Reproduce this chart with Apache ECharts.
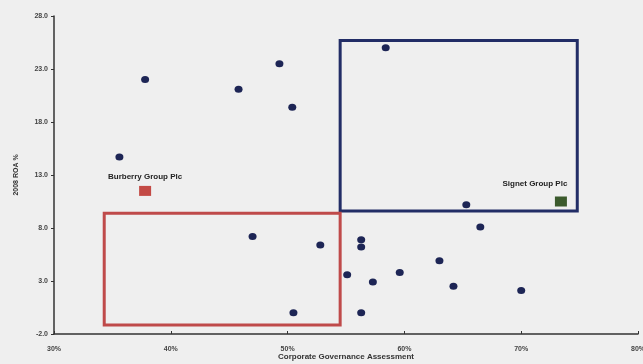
<!DOCTYPE html>
<html>
<head>
<meta charset="utf-8">
<script src="https://cdn.jsdelivr.net/npm/echarts@6/dist/echarts.min.js"></script>
<style>
html,body{margin:0;padding:0;background:#efefef;}
#chart{width:643px;height:364px;}
</style>
</head>
<body>
<div id="chart"></div>
<script>
// Corporate Governance Assessment (%) vs 2008 ROA (%)
var companiesX = [35.6, 37.8, 45.8, 49.3, 50.4, 58.4, 47.0, 52.8, 56.3, 56.3, 55.1, 57.3, 59.6, 63.0, 64.2, 70.0, 66.5, 65.3, 50.5, 56.3];
var companiesY = [14.7, 22.0, 21.1, 23.5, 19.4, 25.0, 7.2, 6.4, 6.9, 6.2, 3.6, 2.9, 3.8, 4.9, 2.5, 2.1, 8.1, 10.2, 0.0, 0.0];

var burberry = {name: 'Burberry Group Plc', x: 37.8, y: 11.5};
var signet = {name: 'Signet Group Plc', x: 73.4, y: 10.5};

// annotation boxes [xMin, yMin, xMax, yMax]
var blueBox = [54.5, 9.6, 74.8, 25.7];
var redBox = [34.3, -1.15, 54.5, 9.4];

var xTicks = [30, 40, 50, 60, 70, 80];
var yTicks = [-2, 3, 8, 13, 18, 23, 28];

var pts = companiesX.map(function (x, i) { return [x, companiesY[i]]; });

var chart = echarts.init(document.getElementById('chart'));
var font = 'Liberation Sans, Arial, sans-serif';
chart.setOption({
  backgroundColor: '#efefef',
  animation: false,
  grid: {left: 54, right: 5, top: 16, bottom: 30, containLabel: false, outerBoundsMode: 'none'},
  xAxis: {
    type: 'value', min: 30, max: 80, interval: 10,
    name: 'Corporate Governance Assessment', nameLocation: 'middle', nameGap: 19, nameMoveOverlap: false,
    nameTextStyle: {fontSize: 8, fontWeight: 'bold', color: '#333', fontFamily: font},
    axisLine: {onZero: false, lineStyle: {color: '#333', width: 1.5}},
    axisTick: {show: true, length: 3, inside: true, customValues: xTicks, lineStyle: {color: '#333'}},
    axisLabel: {fontSize: 7, fontWeight: 'bold', color: '#444', margin: 12, fontFamily: font,
      customValues: xTicks, formatter: '{value}%'},
    splitLine: {show: false}
  },
  yAxis: {
    type: 'value', min: -2, max: 28, interval: 5,
    name: '2008 ROA %', nameLocation: 'middle', nameGap: 34, nameRotate: 90, nameMoveOverlap: false,
    nameTextStyle: {fontSize: 7, fontWeight: 'bold', color: '#333', fontFamily: font},
    axisLine: {show: true, onZero: false, lineStyle: {color: '#333', width: 1.5}},
    axisTick: {show: true, length: 3, customValues: yTicks, lineStyle: {color: '#333'}},
    axisLabel: {fontSize: 7, fontWeight: 'bold', color: '#444', margin: 6, fontFamily: font,
      customValues: yTicks, formatter: function (v) { return v.toFixed(1); }},
    splitLine: {show: false}
  },
  series: [
    {
      type: 'scatter', data: pts, symbol: 'circle', symbolSize: [8, 7],
      itemStyle: {color: '#1d2555', opacity: 1},
      z: 3,
      markArea: {
        silent: true,
        label: {show: false},
        data: [
          [{coord: [blueBox[0], blueBox[3]], itemStyle: {color: 'rgba(0,0,0,0)', borderColor: '#222d66', borderWidth: 3}},
           {coord: [blueBox[2], blueBox[1]]}],
          [{coord: [redBox[0], redBox[3]], itemStyle: {color: 'rgba(0,0,0,0)', borderColor: '#bf4a4a', borderWidth: 3}},
           {coord: [redBox[2], redBox[1]]}]
        ]
      }
    },
    {
      type: 'scatter', symbol: 'rect', symbolSize: [12, 10], z: 4,
      data: [{value: [burberry.x, burberry.y], name: burberry.name}],
      itemStyle: {color: '#c34a45', opacity: 1},
      label: {show: true, formatter: '{b}', position: 'top', distance: 5, offset: [0, 0],
        fontSize: 8, fontWeight: 'bold', color: '#222', fontFamily: font}
    },
    {
      type: 'scatter', symbol: 'rect', symbolSize: [12, 10], z: 4,
      data: [{value: [signet.x, signet.y], name: signet.name}],
      itemStyle: {color: '#3b5a2c', opacity: 1},
      label: {show: true, formatter: '{b}', position: 'top', distance: 6, offset: [-26, -3],
        fontSize: 8, fontWeight: 'bold', color: '#222', fontFamily: font}
    }
  ]
});
</script>
</body>
</html>
